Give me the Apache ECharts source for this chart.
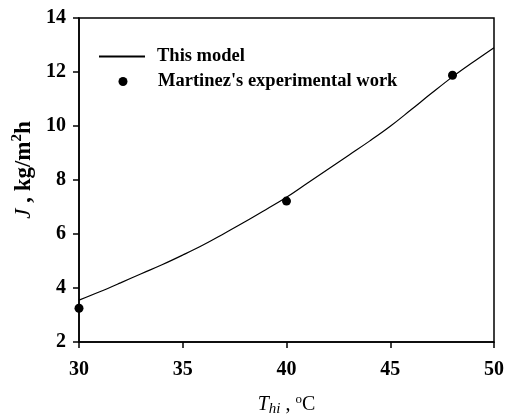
<!DOCTYPE html>
<html>
<head>
<meta charset="utf-8">
<script src="https://cdn.jsdelivr.net/npm/echarts@6/dist/echarts.min.js"></script>
<style>html,body{margin:0;padding:0;background:#fff}#c{width:505px;height:418px}</style>
</head>
<body>
<div id="c"></div>
<script>
// Model curve (This model)
const modelT = [30,31,32,33,34,35,36,37,38,39,40,41,42,43,44,45,46,47,48,49,50];
const modelJ = [3.55,3.86,4.19,4.53,4.86,5.22,5.6,6.02,6.45,6.9,7.36,7.88,8.4,8.92,9.44,9.99,10.6,11.22,11.82,12.37,12.9];
// Martinez's experimental work
const expT = [30,40,48];
const expJ = [3.25,7.22,11.88];

const xTicks = [30,35,40,45,50];
const yTicks = [2,4,6,8,10,12,14];

const FONT = 'Liberation Serif';
const legendText = {fontFamily: FONT, fontWeight: 'bold', fontSize: 18.5, color: '#000', padding: [0,0,0,7]};
const chart = echarts.init(document.getElementById('c'));
chart.setOption({
  animation: false,
  backgroundColor: '#fff',
  grid: {left: 79, right: 11, top: 18, bottom: 76, outerBoundsMode: 'none', containLabel: false,
         show: true, borderColor: '#000', borderWidth: 1.5},
  legend: [
    {
      orient: 'vertical', left: 94, top: 42, itemWidth: 46, itemHeight: 2, icon: 'rect',
      textStyle: legendText,
      data: [{name: 'This model'}]
    },
    {
      orient: 'vertical', left: 113.5, top: 67, itemWidth: 46, itemHeight: 9, icon: 'circle',
      textStyle: legendText,
      data: [{name: "Martinez's experimental work"}]
    }
  ],
  xAxis: {
    type: 'value', min: xTicks[0], max: xTicks[xTicks.length-1], interval: 5,
    axisLine: {lineStyle: {color: '#000', width: 1.5}},
    axisTick: {inside: false, length: 6, lineStyle: {color: '#000', width: 1.5}},
    axisLabel: {fontFamily: FONT, fontWeight: 'bold', fontSize: 20, color: '#000', margin: 18},
    splitLine: {show: false},
    name: '{i|T}{sub|hi}{n| , }{sup|o}{n|C}',
    nameLocation: 'middle', nameGap: 51,
    nameTextStyle: {
      rich: {
        i: {fontFamily: FONT, fontStyle: 'italic', fontSize: 20, color: '#000'},
        sub: {fontFamily: FONT, fontStyle: 'italic', fontSize: 15, color: '#000', padding: [9,0,0,0]},
        n: {fontFamily: FONT, fontSize: 20, color: '#000'},
        sup: {fontFamily: FONT, fontSize: 13, color: '#000', padding: [0,0,11,0]}
      }
    }
  },
  yAxis: {
    type: 'value', min: yTicks[0], max: yTicks[yTicks.length-1], interval: 2,
    axisLine: {lineStyle: {color: '#000', width: 1.5}},
    axisTick: {inside: false, length: 6, lineStyle: {color: '#000', width: 1.5}},
    axisLabel: {fontFamily: FONT, fontWeight: 'bold', fontSize: 20, color: '#000', margin: 13},
    splitLine: {show: false},
    name: '{i|J}{b| , kg/m}{sup|2}{b|h}',
    nameLocation: 'middle', nameGap: 40,
    nameTextStyle: {
      padding: [0, 0, 0, 20],
      rich: {
        i: {fontFamily: FONT, fontStyle: 'italic', fontSize: 23, color: '#000'},
        b: {fontFamily: FONT, fontWeight: 'bold', fontSize: 23, color: '#000'},
        sup: {fontFamily: FONT, fontWeight: 'bold', fontSize: 15, color: '#000', padding: [0,0,12,0]}
      }
    }
  },
  series: [
    {
      name: 'This model', type: 'line', smooth: 0.4, symbol: 'none',
      lineStyle: {color: '#000', width: 1.2},
      itemStyle: {color: '#000'},
      data: modelT.map((t,i) => [t, modelJ[i]])
    },
    {
      name: "Martinez's experimental work", type: 'scatter', symbol: 'circle', symbolSize: 9,
      itemStyle: {color: '#000', opacity: 1},
      data: expT.map((t,i) => [t, expJ[i]])
    }
  ]
});
</script>
</body>
</html>
